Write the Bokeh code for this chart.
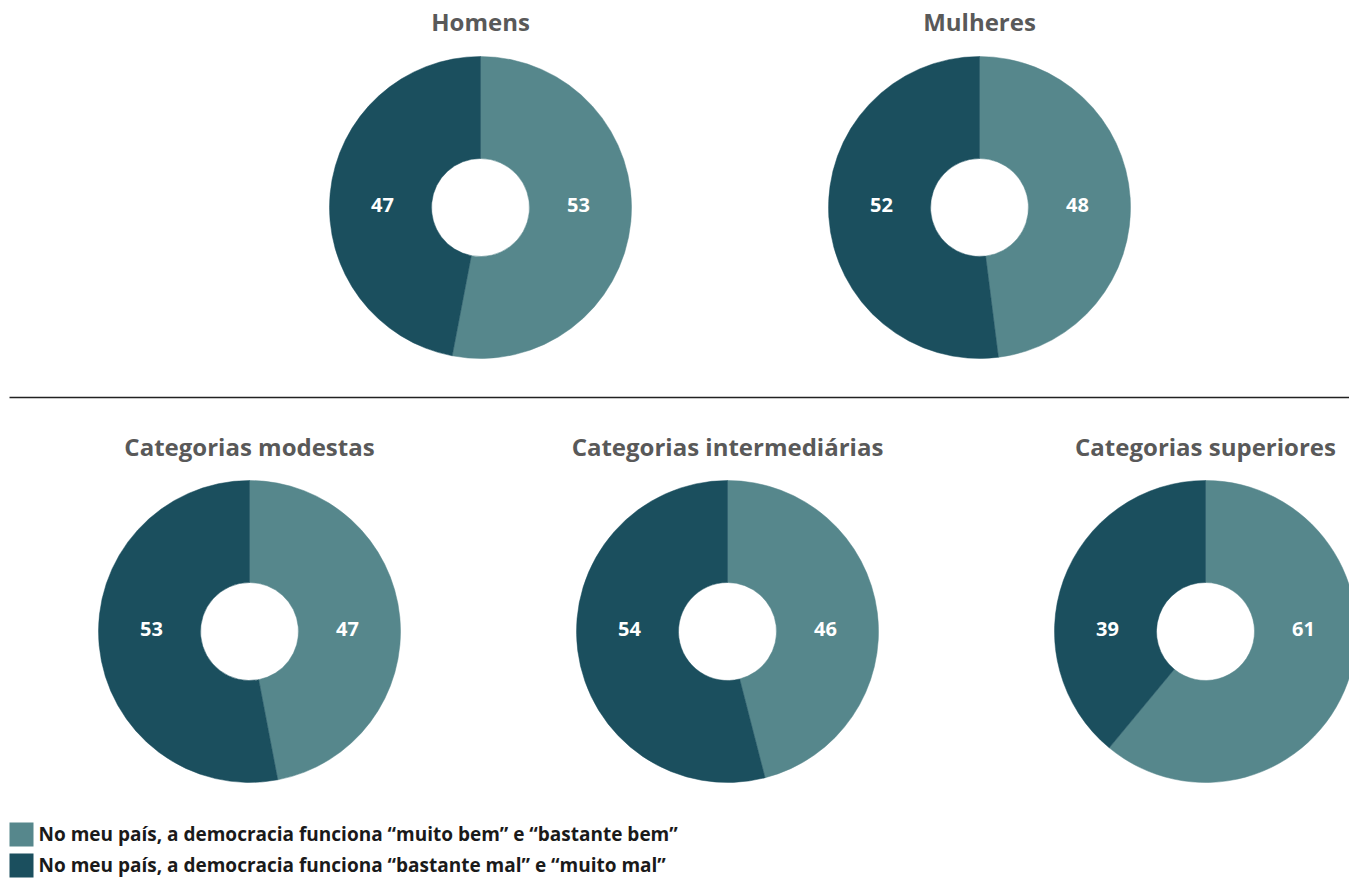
from bokeh.plotting import figure
from bokeh.models import ColumnDataSource, Range1d
from bokeh.core.properties import value
from bokeh.embed import file_html
from bokeh.resources import INLINE
import math

# ---- data ----
groups = ["Homens", "Mulheres", "Categorias modestas", "Categorias intermediárias", "Categorias superiores"]
bem = [53, 48, 47, 46, 61]   # "muito bem" e "bastante bem"
mal = [47, 52, 53, 54, 39]   # "bastante mal" e "muito mal"
legend_labels = [
    "No meu país, a democracia funciona \u201cmuito bem\u201d e \u201cbastante bem\u201d",
    "No meu país, a democracia funciona \u201cbastante mal\u201d e \u201cmuito mal\u201d",
]
colors = ["#56878C", "#1B4F5E"]

# ---- layout (page pixels) ----
W, H = 1349, 878
cx = [480, 979, 249, 727, 1205]
cy_page = [207, 207, 631, 631, 631]
title_y_page = [21, 21, 446, 446, 446]
R_OUT, R_IN = 151, 49
LABEL_DX = 98
LABEL_DY = -3

def Y(page_y):
    return H - page_y

p = figure(width=W, height=H, output_backend="svg", toolbar_location=None,
           x_range=Range1d(0, W), y_range=Range1d(0, H),
           x_axis_location=None, y_axis_location=None, min_border=0,
           outline_line_color=None, background_fill_color="white")
p.grid.visible = False

# wedges
ws = dict(x=[], y=[], start=[], end=[], color=[])
for i in range(len(groups)):
    b = bem[i] / (bem[i] + mal[i])
    ws["x"].append(cx[i]); ws["y"].append(Y(cy_page[i]))
    ws["start"].append(math.pi / 2 - b * 2 * math.pi); ws["end"].append(math.pi / 2)
    ws["color"].append(colors[0])
    ws["x"].append(cx[i]); ws["y"].append(Y(cy_page[i]))
    ws["start"].append(math.pi / 2); ws["end"].append(math.pi / 2 + (1 - b) * 2 * math.pi)
    ws["color"].append(colors[1])
p.annular_wedge(x="x", y="y", inner_radius=R_IN, outer_radius=R_OUT,
                start_angle="start", end_angle="end", color="color",
                line_color="color", line_width=0.5, source=ColumnDataSource(ws))

# value labels
ls = dict(x=[], y=[], t=[])
for i in range(len(groups)):
    ls["x"].append(cx[i] + LABEL_DX); ls["y"].append(Y(cy_page[i] + LABEL_DY)); ls["t"].append(str(bem[i]))
    ls["x"].append(cx[i] - LABEL_DX); ls["y"].append(Y(cy_page[i] + LABEL_DY)); ls["t"].append(str(mal[i]))
p.text(x="x", y="y", text="t", source=ColumnDataSource(ls), text_color="white",
       text_font=value("Open Sans"), text_font_style="bold", text_font_size="20px",
       text_align="center", text_baseline="middle")

# titles
ts = dict(x=cx, y=[Y(v) for v in title_y_page], t=groups)
p.text(x="x", y="y", text="t", source=ColumnDataSource(ts), text_color="#595959",
       text_font=value("Open Sans"), text_font_style="bold", text_font_size="24px",
       text_align="center", text_baseline="middle")

# separator
p.segment(x0=[9], y0=[Y(397)], x1=[W], y1=[Y(397)], line_color="#222222", line_width=1.5)

# legend
sq_y = [Y(834), Y(865)]
p.rect(x=[21, 21], y=sq_y, width=24, height=24, fill_color=colors, line_color=None)
p.text(x=[38, 38], y=[v + 1 for v in sq_y], text=legend_labels, text_color="#1a1a1a",
       text_font=value("Open Sans"), text_font_style="bold", text_font_size="19px",
       text_align="left", text_baseline="middle")

open("out.html", "w").write(file_html(p, INLINE))
